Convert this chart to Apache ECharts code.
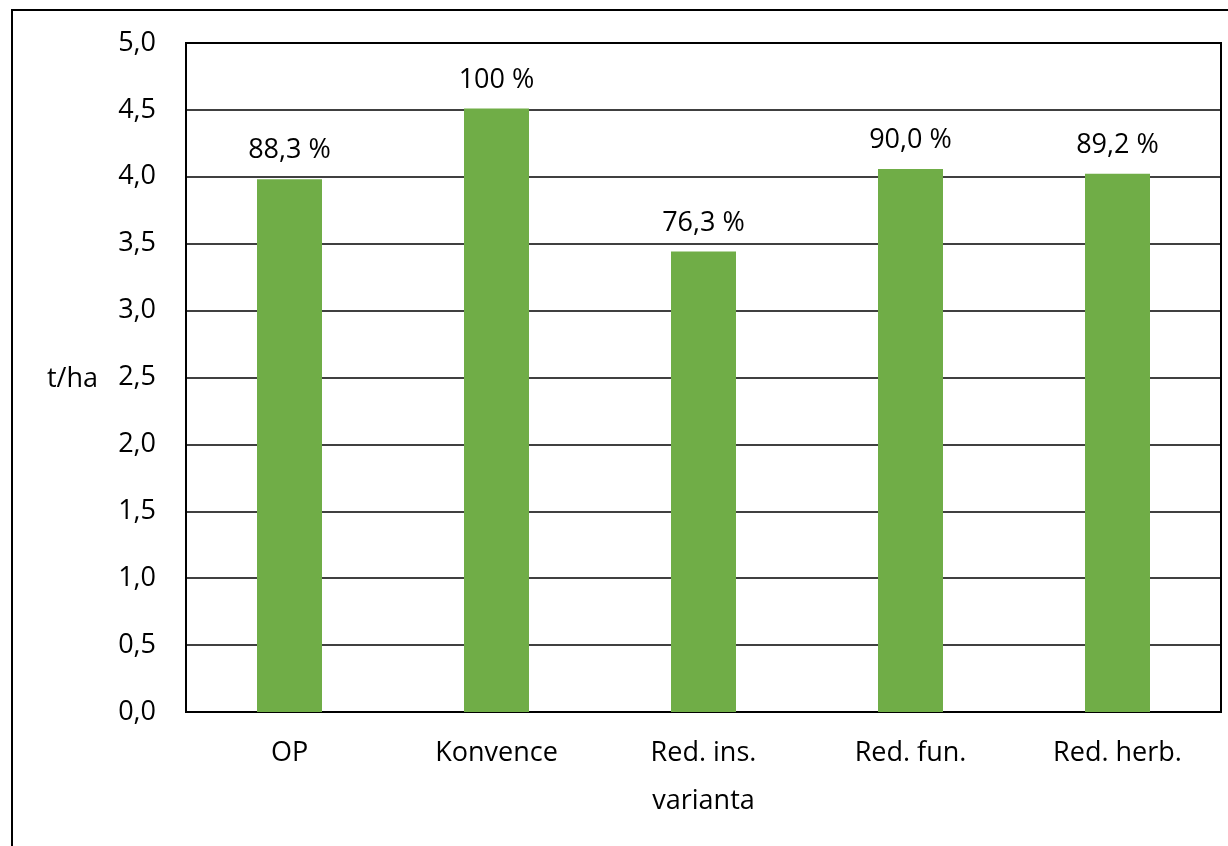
<!DOCTYPE html>
<html>
<head>
<meta charset="utf-8">
<script src="https://cdn.jsdelivr.net/npm/echarts@6/dist/echarts.min.js"></script>
<style>
  html, body { margin: 0; padding: 0; background: #fff; }
  #chart { width: 1228px; height: 846px; }
</style>
</head>
<body>
<div id="chart"></div>
<script>
// Yield per treatment variant, relative to the conventional variant
const categories = ['OP', 'Konvence', 'Red. ins.', 'Red. fun.', 'Red. herb.'];
const relativePct = [88.3, 100, 76.3, 90.0, 89.2];
const baseYield = 4.51; // t/ha, Konvence
const pctLabels = ['88,3 %', '100 %', '76,3 %', '90,0 %', '89,2 %'];
const yTicks = ['0,0', '0,5', '1,0', '1,5', '2,0', '2,5', '3,0', '3,5', '4,0', '4,5', '5,0'];

const yields = relativePct.map(p => baseYield * p / 100);

const FONT = 'Open Sans';
const FS = 27;
const chart = echarts.init(document.getElementById('chart'));
chart.setOption({
  animation: false,
  backgroundColor: '#fff',
  textStyle: { fontFamily: FONT },
  grid: {
    left: 186, top: 43, right: 7, bottom: 134,
    show: true, borderColor: '#000', borderWidth: 2, backgroundColor: 'transparent'
  },
  xAxis: {
    type: 'category',
    data: categories,
    name: 'varianta',
    nameLocation: 'middle',
    nameGap: 76,
    nameTextStyle: { fontSize: FS, color: '#000', fontFamily: FONT },
    axisLine: { lineStyle: { color: '#000', width: 2 } },
    axisTick: { show: false },
    axisLabel: { fontSize: FS, color: '#000', margin: 28, fontFamily: FONT }
  },
  yAxis: {
    type: 'value',
    min: 0, max: 5, interval: 0.5,
    axisLine: { show: true, lineStyle: { color: '#000', width: 2 } },
    axisTick: { show: false },
    axisLabel: {
      fontSize: FS, color: '#000', margin: 30, fontFamily: FONT,
      formatter: v => yTicks[Math.round(v / 0.5)]
    },
    splitLine: { lineStyle: { color: '#000', width: 1.5 } }
  },
  graphic: [
    {
      type: 'rect',
      shape: { x: 12, y: 10, width: 1240, height: 860 },
      style: { fill: 'none', stroke: '#000', lineWidth: 2 },
      silent: true
    },
    {
      type: 'text',
      left: 47, top: 366,
      style: { text: 't/ha', font: FS + 'px "Open Sans"', fill: '#000' }
    }
  ],
  series: [{
    type: 'bar',
    data: yields,
    barWidth: 65,
    itemStyle: { color: '#70AD47' },
    label: {
      show: true,
      position: 'top',
      distance: 15,
      fontSize: FS,
      color: '#000',
      fontFamily: FONT,
      formatter: p => pctLabels[p.dataIndex]
    }
  }]
});
</script>
</body>
</html>
